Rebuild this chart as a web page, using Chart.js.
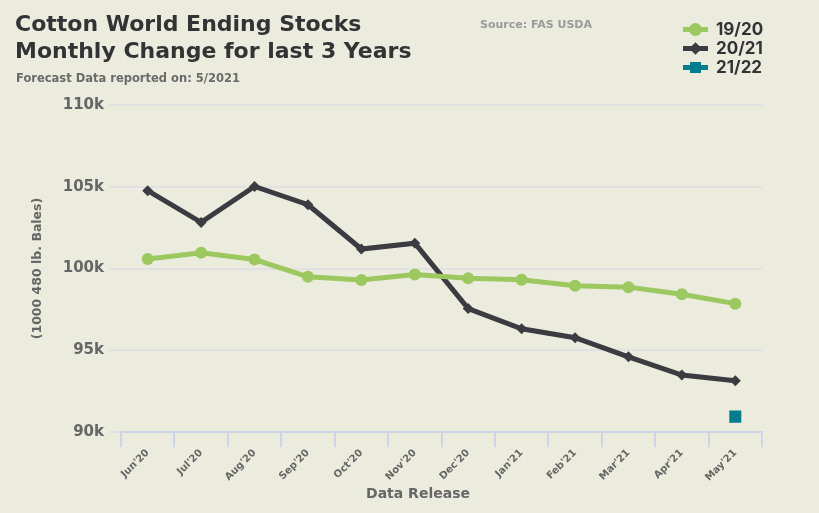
<!DOCTYPE html>
<html>
<head>
<meta charset="utf-8">
<script src="https://cdn.jsdelivr.net/npm/chart.js@4/dist/chart.umd.min.js"></script>
<style>
  html, body { margin: 0; padding: 0; }
  body { width: 819px; height: 513px; background: #ebebde; position: relative; overflow: hidden; font-family: "DejaVu Sans", sans-serif; }
  #wrap { position: absolute; left: 0; top: 0; width: 819px; height: 513px; }
  .title { position: absolute; left: 15px; top: 10px; font-size: 22px; font-weight: 700; line-height: 27px; color: #333336; }
  .sub { position: absolute; left: 16px; top: 71px; font-size: 11.5px; font-weight: 700; color: #6a6a6a; }
  .source { position: absolute; left: 480px; top: 18px; font-size: 11px; font-weight: 700; color: #9a9a9a; }
  .legend { position: absolute; left: 683px; top: 19px; font-family: "Inter", sans-serif; }
  .legend .item { position: relative; height: 19px; }
  .legend .line { position: absolute; left: 0; top: 8px; width: 25px; height: 5px; }
  .legend .mk { position: absolute; }
  .legend .lbl { position: absolute; left: 33px; top: 0; font-size: 17px; font-weight: 700; color: #333336; line-height: 21px; }
  .xtitle { position: absolute; left: 0; width: 836px; text-align: center; top: 485px; font-size: 14px; font-weight: 700; color: #666; }
</style>
</head>
<body>
<div id="wrap"><canvas id="chart" width="819" height="513"></canvas></div>
<div class="title">Cotton World Ending Stocks<br>Monthly Change for last 3 Years</div>
<div class="sub">Forecast Data reported on: 5/2021</div>
<div class="source">Source: FAS USDA</div>
<div class="legend" id="legend"></div>
<div class="xtitle">Data Release</div>
<script>
// valores (miles de pacas de 480 lb)
const categories = ["Jun'20", "Jul'20", "Aug'20", "Sep'20", "Oct'20", "Nov'20",
                    "Dec'20", "Jan'21", "Feb'21", "Mar'21", "Apr'21", "May'21"];
const stocks1920 = [100580, 100960, 100550, 99490, 99290, 99630,
                    99410, 99310, 98940, 98860, 98430, 97850];
const stocks2021 = [104760, 102820, 105020, 103900, 101190, 101550,
                    97550, 96310, 95770, 94600, 93480, 93130];
const stocks2122 = [null, null, null, null, null, null,
                    null, null, null, null, null, 90940];
const yTicks = [90000, 95000, 100000, 105000, 110000];

const colors = { green: "#9cc860", dark: "#3c3b41", teal: "#007d8e" };

// leyenda en HTML (vertical, arriba a la derecha)
const legendItems = [
  { label: "19/20", color: colors.green, shape: "circle" },
  { label: "20/21", color: colors.dark, shape: "diamond" },
  { label: "21/22", color: colors.teal, shape: "square" }
];
const legendEl = document.getElementById("legend");
legendItems.forEach(it => {
  const row = document.createElement("div");
  row.className = "item";
  let mk;
  if (it.shape === "circle") mk = `<span class="mk" style="left:6px;top:4px;width:13px;height:13px;border-radius:50%;background:${it.color}"></span>`;
  if (it.shape === "diamond") mk = `<span class="mk" style="left:8px;top:6px;width:9px;height:9px;transform:rotate(45deg);background:${it.color}"></span>`;
  if (it.shape === "square") mk = `<span class="mk" style="left:7px;top:5px;width:11px;height:11px;background:${it.color}"></span>`;
  row.innerHTML = `<span class="line" style="background:${it.color}"></span>${mk}<span class="lbl">${it.label}</span>`;
  legendEl.appendChild(row);
});

const ctx = document.getElementById("chart").getContext("2d");
new Chart(ctx, {
  type: "line",
  data: {
    labels: categories,
    datasets: [
      {
        label: "19/20",
        data: stocks1920,
        borderColor: colors.green,
        backgroundColor: colors.green,
        borderWidth: 5,
        pointStyle: "circle",
        pointRadius: 6,
        pointBorderWidth: 0
      },
      {
        label: "20/21",
        data: stocks2021,
        borderColor: colors.dark,
        backgroundColor: colors.dark,
        borderWidth: 5,
        pointStyle: "rectRot",
        pointRadius: 5.5,
        pointBorderWidth: 0
      },
      {
        label: "21/22",
        data: stocks2122,
        borderColor: colors.teal,
        backgroundColor: colors.teal,
        borderWidth: 5,
        pointStyle: "rect",
        pointRadius: 8.5,
        pointBorderWidth: 0
      }
    ]
  },
  options: {
    responsive: false,
    animation: false,
    layout: { padding: { top: 105, right: 57, left: 30, bottom: 0 } },
    plugins: {
      legend: { display: false },
      tooltip: { enabled: false }
    },
    scales: {
      x: {
        offset: true,
        grid: {
          offset: true,
          drawOnChartArea: false,
          drawTicks: true,
          tickLength: 15,
          color: "#cdd5e8",
          lineWidth: 2
        },
        border: { display: true, color: "#cdd5e8", width: 2 },
        ticks: {
          maxRotation: 45,
          minRotation: 45,
          padding: 0,
          color: "#666",
          font: { family: "DejaVu Sans", size: 10, weight: "700" }
        },
        afterFit: s => { s.height = 81; }
      },
      y: {
        min: 90000,
        max: 110000,
        afterBuildTicks: s => { s.ticks = yTicks.map(v => ({ value: v })); },
        grid: {
          color: "#e1e1e3",
          lineWidth: 2,
          drawTicks: true,
          tickLength: 12
        },
        border: { display: false },
        ticks: {
          padding: 5,
          color: "#666",
          font: { family: "DejaVu Sans", size: 15, weight: "700" },
          callback: v => (v / 1000) + "k"
        },
        title: {
          display: true,
          text: "(1000 480 lb. Bales)",
          color: "#666",
          font: { family: "DejaVu Sans", size: 12.5, weight: "700" },
          padding: { top: 0, bottom: 0 }
        },
        afterFit: s => { s.width = 91; }
      }
    }
  }
});
</script>
</body>
</html>
